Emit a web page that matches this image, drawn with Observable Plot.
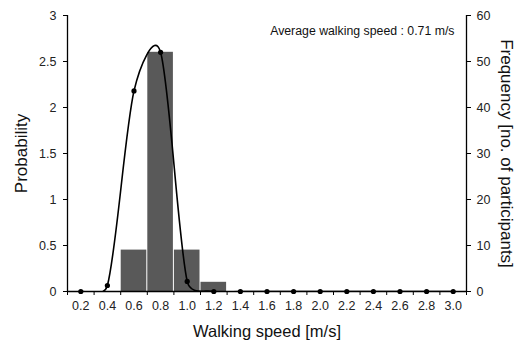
<!DOCTYPE html>
<html>
<head>
<meta charset="utf-8">
<script src="https://cdn.jsdelivr.net/npm/d3@7"></script>
<script src="https://cdn.jsdelivr.net/npm/@observablehq/plot@0.6"></script>
<style>
  html, body { margin: 0; padding: 0; background: #fff; }
</style>
</head>
<body>
<div id="chart"></div>
<script>
// Histogram of walking speeds (bins 0.2 m/s wide, counts of participants)
const binCenters = [0.6, 0.8, 1.0, 1.2];
const binCounts = [9, 52, 9, 2];
const binWidth = 0.2;

// Fitted probability curve, sampled every 0.2 m/s
const curveSpeeds = [0.2, 0.4, 0.6, 0.8, 1.0, 1.2, 1.4, 1.6, 1.8, 2.0, 2.2, 2.4, 2.6, 2.8, 3.0];
const curveProbability = [0, 0.065, 2.18, 2.6, 0.11, 0, 0, 0, 0, 0, 0, 0, 0, 0, 0];

// Axes
const speedDomain = [0.1, 3.1];
const binEdges = [0.1, 0.3, 0.5, 0.7, 0.9, 1.1, 1.3, 1.5, 1.7, 1.9, 2.1, 2.3, 2.5, 2.7, 2.9, 3.1];
const speedTicks = [0.2, 0.4, 0.6, 0.8, 1.0, 1.2, 1.4, 1.6, 1.8, 2.0, 2.2, 2.4, 2.6, 2.8, 3.0];
const speedLabels = ["0.2", "0.4", "0.6", "0.8", "1.0", "1.2", "1.4", "1.6", "1.8", "2.0", "2.2", "2.4", "2.6", "2.8", "3.0"];
const probabilityTicks = [0, 0.5, 1, 1.5, 2, 2.5, 3];
const probabilityLabels = ["0", "0.5", "1", "1.5", "2", "2.5", "3"];
const frequencyLabels = ["0", "10", "20", "30", "40", "50", "60"];
const frequencyMax = 60;
const probabilityMax = 3;
const averageSpeed = 0.71;

// participants per unit of probability on the shared vertical scale
const countsPerProbability = frequencyMax / probabilityMax;

const bins = binCenters.map((c, i) => ({center: c, count: binCounts[i]}));
const curve = curveSpeeds.map((s, i) => ({speed: s, probability: curveProbability[i]}));

// Spreadsheet-style smoothed line: cubic Bézier segments whose control arms are
// 1/6 of the neighbour chord, but never longer than half the segment itself.
function smoothedLine(context) {
  let pts = [];
  return {
    areaStart() {},
    areaEnd() {},
    lineStart() { pts = []; },
    point(x, y) { pts.push([+x, +y]); },
    lineEnd() {
      const n = pts.length;
      if (!n) return;
      context.moveTo(pts[0][0], pts[0][1]);
      for (let i = 0; i < n - 1; i++) {
        const p0 = pts[Math.max(i - 1, 0)];
        const p1 = pts[i];
        const p2 = pts[i + 1];
        const p3 = pts[Math.min(i + 2, n - 1)];
        const d12 = Math.hypot(p2[0] - p1[0], p2[1] - p1[1]);
        const d02 = Math.hypot(p2[0] - p0[0], p2[1] - p0[1]);
        const d13 = Math.hypot(p3[0] - p1[0], p3[1] - p1[1]);
        const f1 = d02 > 0 ? Math.min(1 / 6, d12 / (2 * d02)) : 0;
        const f2 = d13 > 0 ? Math.min(1 / 6, d12 / (2 * d13)) : 0;
        context.bezierCurveTo(
          p1[0] + f1 * (p2[0] - p0[0]), p1[1] + f1 * (p2[1] - p0[1]),
          p2[0] - f2 * (p3[0] - p1[0]), p2[1] - f2 * (p3[1] - p1[1]),
          p2[0], p2[1]
        );
      }
    }
  };
}

const font = "'Liberation Sans', Arial, Helvetica, sans-serif";

const chart = Plot.plot({
  width: 525,
  height: 342,
  marginLeft: 67,
  marginRight: 59,
  marginTop: 15,
  marginBottom: 51,
  style: {fontFamily: font, fontSize: "12.5px", color: "#222", background: "#fff"},
  x: {type: "linear", domain: speedDomain},
  y: {type: "linear", domain: [0, probabilityMax]},
  marks: [
    Plot.rectY(bins, {
      x1: d => d.center - binWidth / 2,
      x2: d => d.center + binWidth / 2,
      y: d => d.count / countsPerProbability,
      fill: "#595959",
      insetLeft: 0.5,
      insetRight: 0.5
    }),
    Plot.line(curve, {x: "speed", y: "probability", curve: smoothedLine, clip: true,
      stroke: "#000", strokeWidth: 1.6}),
    Plot.dot(curve, {x: "speed", y: "probability", r: 2.6, fill: "#000", stroke: "none"}),
    // axis lines
    Plot.ruleY([0], {stroke: "#000", strokeWidth: 1.3}),
    Plot.ruleX(speedDomain, {stroke: "#000", strokeWidth: 1.3}),
    // bottom axis: ticks at bin edges, labels at bin centres
    Plot.axisX(binEdges, {anchor: "bottom", tickSize: 4, tickFormat: () => "", label: null, stroke: "#000"}),
    Plot.axisX(speedTicks, {anchor: "bottom", tickSize: 0, tickPadding: 10,
      tickFormat: d => speedLabels[speedTicks.indexOf(d)], label: null, fontSize: 12.5}),
    // left axis: probability
    Plot.axisY(probabilityTicks, {anchor: "left", tickSize: 4, tickPadding: 7,
      tickFormat: d => probabilityLabels[probabilityTicks.indexOf(d)], label: null, fontSize: 12.5, stroke: "#000"}),
    // right axis: frequency (number of participants)
    Plot.axisY(probabilityTicks, {anchor: "right", tickSize: 4, tickPadding: 6,
      tickFormat: d => frequencyLabels[probabilityTicks.indexOf(d)], label: null, fontSize: 12.5, stroke: "#000"}),
    // axis titles
    Plot.text(["Probability"], {frameAnchor: "left", dx: -46, rotate: -90, textAnchor: "middle",
      lineAnchor: "middle", fontSize: 17, fill: "#111"}),
    Plot.text(["Frequency [no. of participants]"], {frameAnchor: "right", dx: 40, rotate: 90, textAnchor: "middle",
      lineAnchor: "middle", fontSize: 17, fill: "#111"}),
    Plot.text(["Walking speed [m/s]"], {frameAnchor: "bottom", dy: 40, textAnchor: "middle",
      lineAnchor: "middle", fontSize: 16.5, fill: "#111"}),
    // annotation
    Plot.text([`Average walking speed : ${averageSpeed} m/s`], {frameAnchor: "top-right", dx: -12, dy: 16,
      textAnchor: "end", lineAnchor: "middle", fontSize: 12.3, fill: "#111"})
  ]
});

document.getElementById("chart").appendChild(chart);
</script>
</body>
</html>
